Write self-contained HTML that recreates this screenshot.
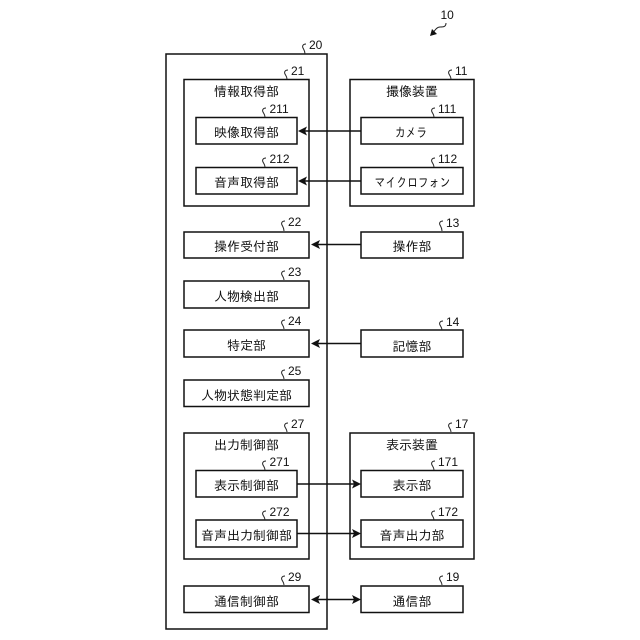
<!DOCTYPE html>
<html>
<head>
<meta charset="utf-8">
<style>
html,body{margin:0;padding:0;background:#fff;}
svg{display:block;}
rect{fill:#fff;stroke:#111;stroke-width:1.5;}
text{font-family:"Liberation Sans","IPAGothic","Noto Sans CJK JP",sans-serif;fill:#111;}
.t{font-size:13px;text-anchor:middle;}
.n{font-size:12px;}
.l{fill:none;stroke:#222;stroke-width:1;}
.c{stroke:#111;stroke-width:1.4;fill:none;}
.a{fill:#111;stroke:none;}
</style>
</head>
<body>
<svg width="640" height="640" viewBox="0 0 640 640" xmlns="http://www.w3.org/2000/svg">
<rect x="166" y="54" width="161" height="575"/>
<rect x="184" y="79.5" width="125" height="126.5"/>
<rect x="196" y="117.5" width="101" height="26.5"/>
<rect x="196" y="167.5" width="101" height="26.5"/>
<rect x="350" y="79.5" width="124" height="126.5"/>
<rect x="361" y="117.5" width="102" height="26.5"/>
<rect x="361" y="167.5" width="102" height="26.5"/>
<rect x="184" y="232" width="125" height="26"/>
<rect x="361" y="232" width="102" height="26"/>
<rect x="184" y="281" width="125" height="27"/>
<rect x="184" y="330" width="125" height="27"/>
<rect x="361" y="330" width="102" height="27"/>
<rect x="184" y="380" width="125" height="26.5"/>
<rect x="184" y="433" width="125" height="126"/>
<rect x="196" y="470.5" width="101" height="26.5"/>
<rect x="196" y="520" width="101" height="27"/>
<rect x="350" y="433" width="124" height="126"/>
<rect x="361" y="470.5" width="102" height="26.5"/>
<rect x="361" y="520" width="102" height="27"/>
<rect x="184" y="586" width="125" height="26.5"/>
<rect x="361" y="586" width="102" height="26.5"/>

<path class="c" d="M361 131H303M361 181H303M361 244.500H316M361 343.500H316M297 484H355M297 533.500H355M316 599.500H355"/>
<path class="a" d="M298 131l9-4.500-2 4.500 2 4.500zM298 181l9-4.500-2 4.500 2 4.500zM311 244.500l9-4.500-2 4.500 2 4.500zM311 343.500l9-4.500-2 4.500 2 4.500zM361 484l-9-4.500 2 4.500-2 4.500zM361 533.500l-9-4.500 2 4.500-2 4.500zM361 599.500l-9-4.500 2 4.500-2 4.500zM311 599.500l9-4.500-2 4.500 2 4.500z"/>

<g>
<text class="t" x="246.500" y="96">情報取得部</text>
<text class="t" x="412" y="96">撮像装置</text>
<text class="t" x="246.500" y="137">映像取得部</text>
<text class="t" x="411" y="137" textLength="32" lengthAdjust="spacingAndGlyphs">カメラ</text>
<text class="t" x="246.500" y="187">音声取得部</text>
<text class="t" x="412.500" y="187" textLength="76" lengthAdjust="spacingAndGlyphs">マイクロフォン</text>
<text class="t" x="246.500" y="251">操作受付部</text>
<text class="t" x="412" y="251">操作部</text>
<text class="t" x="246.500" y="301">人物検出部</text>
<text class="t" x="246.500" y="350">特定部</text>
<text class="t" x="412" y="351">記憶部</text>
<text class="t" x="246.500" y="400">人物状態判定部</text>
<text class="t" x="246.500" y="449.500">出力制御部</text>
<text class="t" x="412" y="449.500">表示装置</text>
<text class="t" x="246.500" y="490">表示制御部</text>
<text class="t" x="412" y="490">表示部</text>
<text class="t" x="246.500" y="540">音声出力制御部</text>
<text class="t" x="412" y="540">音声出力部</text>
<text class="t" x="246.500" y="606">通信制御部</text>
<text class="t" x="412" y="606">通信部</text>
</g>

<g>
<text class="n" x="440.500" y="19">10</text>
<text class="n" x="309" y="49">20</text>
<text class="n" x="291" y="75">21</text>
<text class="n" x="269.500" y="113">211</text>
<text class="n" x="269.500" y="163">212</text>
<text class="n" x="455" y="75">11</text>
<text class="n" x="438" y="113">111</text>
<text class="n" x="438" y="163">112</text>
<text class="n" x="288" y="226">22</text>
<text class="n" x="446" y="227">13</text>
<text class="n" x="288" y="276">23</text>
<text class="n" x="288" y="325">24</text>
<text class="n" x="446" y="326">14</text>
<text class="n" x="288" y="375">25</text>
<text class="n" x="291" y="428">27</text>
<text class="n" x="455" y="428">17</text>
<text class="n" x="269.500" y="466">271</text>
<text class="n" x="269.500" y="516">272</text>
<text class="n" x="438" y="466">171</text>
<text class="n" x="438" y="516">172</text>
<text class="n" x="288" y="581">29</text>
<text class="n" x="446" y="581">19</text>
</g>

<path class="l" d="M306 44c-3 0-4 2-3 4s2 3 2 6M288 70c-3 0-4 2-3 4s2 3 2 5M266 108c-3 0-4 2-3 4s2 3 2 5M266 158c-3 0-4 2-3 4s2 3 2 5M452 70c-3 0-4 2-3 4s2 3 2 5M435 108c-3 0-4 2-3 4s2 3 2 5M435 158c-3 0-4 2-3 4s2 3 2 5M285 221c-3 0-4 2-3 4s2 3 2 6M443 221c-3 0-4 2-3 4s2 3 2 6M285 271c-3 0-4 2-3 4s2 3 2 5M285 320c-3 0-4 2-3 4s2 3 2 5M443 321c-3 0-4 2-3 4s2 3 2 5M285 370c-3 0-4 2-3 4s2 3 2 5M288 423c-3 0-4 2-3 4s2 3 2 5M452 423c-3 0-4 2-3 4s2 3 2 5M266 461c-3 0-4 2-3 4s2 3 2 5M266 511c-3 0-4 2-3 4s2 3 2 5M435 461c-3 0-4 2-3 4s2 3 2 5M435 511c-3 0-4 2-3 4s2 3 2 5M285 576c-3 0-4 2-3 4s2 3 2 5M443 576c-3 0-4 2-3 4s2 3 2 5"/>
<path class="l" d="M446 23c0 4-3 4-6 4s-5 3-7 6"/>
<path class="a" d="M430 36l2-7 5 5z"/>
</svg>
</body>
</html>
